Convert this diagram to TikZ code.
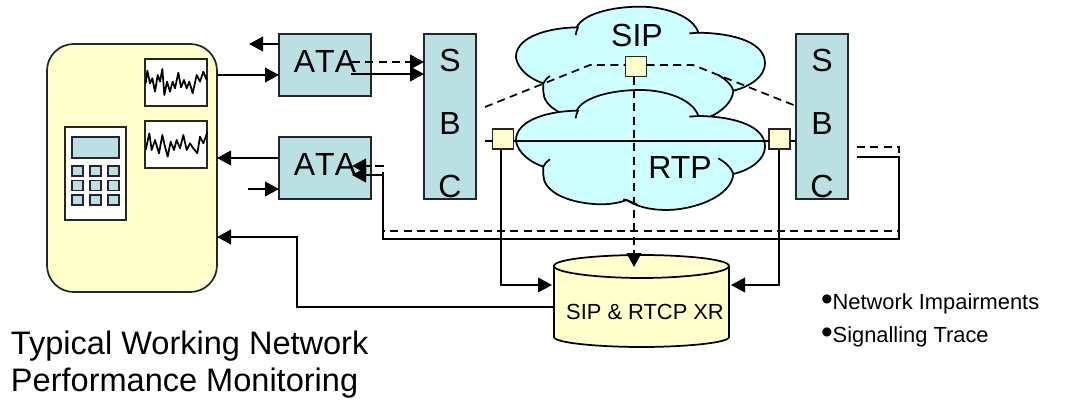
\documentclass[tikz,border=0pt]{standalone}
\usepackage{fontspec}
\setmainfont{Liberation Sans}
\usetikzlibrary{arrows.meta}
\definecolor{ablue}{HTML}{B9E0E3}
\definecolor{ayel}{HTML}{FFFFCC}
\definecolor{acloud}{HTML}{CCFFFF}
\newcommand{\bigf}{\fontsize{24}{24}\selectfont}
\newcommand{\bul}{{\fontsize{25}{25}\selectfont\raisebox{-1.1pt}{•}}}
\newcommand{\cloudshape}[1]{%
\begin{scope}[shift={(480,#1)},x=.25pt,y=-.25pt]
\draw[ln,fill=acloud] (290,82) .. controls (310,40) and (400,20) .. (480,20)
 .. controls (560,20) and (640,50) .. (655,98)
 .. controls (770,100) and (855,130) .. (855,190)
 .. controls (855,230) and (810,260) .. (760,272)
 .. controls (755,340) and (640,380) .. (560,380)
 .. controls (510,380) and (470,370) .. (440,350)
 .. controls (410,362) and (370,365) .. (340,362)
 .. controls (250,355) and (190,320) .. (190,275)
 .. controls (190,265) and (190,255) .. (190,250)
 .. controls (130,230) and (108,190) .. (108,170)
 .. controls (108,120) and (180,85) .. (290,82) -- cycle;
\draw[ln] (287,105) .. controls (288,97) and (290,90) .. (295,80);
\draw[ln] (628,100) -- (657,98);
\draw[ln] (715,225) .. controls (740,240) and (755,255) .. (760,272);
\draw[ln] (190,250) .. controls (195,240) and (200,235) .. (210,228);
\draw[ln] (430,348) .. controls (445,352) and (460,358) .. (472,364);
\end{scope}}
\tikzset{
 x=.75pt,y=-.75pt,
 ln/.style={line width=1.3pt,black},
 arr/.style={ln,-{Triangle[length=10.5pt,width=11pt]}},
 dsh/.style={ln,dash pattern=on 6pt off 4pt},
 darr/.style={dsh,-{Triangle[length=10.5pt,width=11pt]}},
 boxx/.style={draw=black!85,line width=1.3pt,inner sep=0pt,outer sep=0pt,align=center},
 whbox/.style 2 args={boxx,minimum width=#1*.75pt,minimum height=#2*.75pt},
 txt/.style={inner sep=0pt,outer sep=0pt,anchor=base,font=\bigf},
 ata/.style={boxx,fill=ablue,font=\bigf\addfontfeatures{Kerning=Off},minimum width=69pt,text height=28.5pt,text depth=18pt},
 sbc/.style={boxx,fill=ablue,minimum width=39pt,font=\fontsize{24}{46.9}\selectfont},
 sq/.style={whbox={21}{20},fill=ayel},
 key/.style={whbox={11}{10},fill=ablue},
}
\begin{document}
\begin{tikzpicture}
\useasboundingbox (0,0) rectangle (1068,400);
% monitor
\node[whbox={170}{248},fill=ayel,rounded corners=20pt] (mon) at (132,168) {};
\node[whbox={62}{47},fill=white] (g1) at (176,82.5) {};
\node[whbox={62}{47},fill=white] (g2) at (176,144.5) {};
\begin{scope}[x=.25pt,y=-.25pt]
\draw[ln,line join=round] (437,250)--(442,212)--(450,250)--(457,235)--(465,275)--(473,225)--(480,245)--(487,207)--(493,285)--(501,245)--(510,275)--(518,245)--(525,265)--(535,218)--(543,262)--(552,240)--(560,265)--(568,245)--(578,280)--(590,225)--(600,245)--(610,215)--(620,240);
\draw[ln,line join=round] (437,450)--(448,400)--(455,450)--(465,420)--(477,460)--(487,405)--(495,440)--(503,470)--(512,425)--(522,450)--(530,420)--(540,445)--(550,405)--(560,450)--(570,430)--(580,445)--(592,460)--(600,410)--(610,430)--(622,397);
\end{scope}
\node[whbox={61}{93},fill=white] (calc) at (95.5,173.5) {};
\node[whbox={47}{21},fill=ablue] (scr) at (95.5,147.5) {};
\node[key] (k1) at (77.5,171) {};
\node[key] (k2) at (95.5,171) {};
\node[key] (k3) at (113.5,171) {};
\node[key] (k4) at (77.5,185.5) {};
\node[key] (k5) at (95.5,185.5) {};
\node[key] (k6) at (113.5,185.5) {};
\node[key] (k7) at (77.5,200) {};
\node[key] (k8) at (95.5,200) {};
\node[key] (k9) at (113.5,200) {};
% clouds
\cloudshape{0}
\cloudshape{83.3}
\node[txt] (sip) at (637,46) {SIP};
\node[txt] (rtp) at (680,178) {RTP};
% boxes
\node[ata] (ata1) at (325,65) {ATA};
\node[ata] (ata2) at (325,168) {ATA};
\node[sbc] (sbc1) at (450,116.5) {\rule{0pt}{28.5pt}S\\B\\C\rule[-1.5pt]{0pt}{1.5pt}};
\node[sbc] (sbc2) at (822,116.5) {\rule{0pt}{28.5pt}S\\B\\C\rule[-1.5pt]{0pt}{1.5pt}};
\node[sq] (sl) at (503,139) {};
\node[sq] (sr) at (779.5,139) {};
\node[sq] (st) at (636,66.5) {};
% database
\draw[ln,fill=ayel] (554,266) .. controls (554,259) and (600,255) .. (641.5,255)
 .. controls (683,255) and (729,259) .. (729,266) -- (729,337)
 .. controls (729,343) and (683,347) .. (641.5,347)
 .. controls (600,347) and (554,343) .. (554,337) -- cycle;
\draw[ln] (554,266) .. controls (554,273) and (600,278) .. (641.5,278)
 .. controls (683,278) and (729,273) .. (729,266);
\node[txt,font=\fontsize{16.4}{16.4}\selectfont] (db) at (645,319) {SIP \& RTCP XR};
% named free ends
\coordinate (a1out) at (249,44);
\coordinate (a1d) at (352,62);
\coordinate (a1s) at (351,74);
\coordinate (a2in) at (248,189);
\coordinate (a2dt) at (352,166);
\coordinate (a2st) at (352,175);
\coordinate (e1) at (857,147);
\coordinate (e2) at (857,157);
\coordinate (l1) at (485,107);
\coordinate (l2) at (485,141);
\coordinate (dbl) at (552,285);
\coordinate (dbr) at (731,285);
\coordinate (dbt) at (634,267);
\coordinate (dbs) at (554,307);
% connectors
\draw[arr] (ata1.west |- a1out) -- (a1out);
\draw[arr] (mon.east |- 0,75) -- (ata1.west |- 0,75);
\draw[darr] (a1d) -- (sbc1.west |- a1d);
\draw[arr] (a1s) -- (sbc1.west |- a1s);
\draw[arr] (ata2.west |- 0,158) -- (mon.east |- 0,158);
\draw[arr] (a2in) -- (ata2.west |- a2in);
\draw[darr] (e1) -- (899,147) -- (899,231) -- (383,231) -- (383,166) -- (a2dt);
\draw[arr] (e2) -- (899,157) -- (899,239) -- (383,239) -- (383,175) -- (a2st);
\draw[arr] (dbs) -- (297,307) -- (297,237) -- (mon.east |- 0,237);
\draw[ln] (l2) -- (sl.west |- l2);
\draw[ln] (sl.east |- l2) -- (sr.west |- l2);
\draw[ln] (sr.east |- l2) -- (sbc2.west |- l2);
\draw[arr] (501,149) |- (dbl);
\draw[arr] (779.2,149) |- (dbr);
\draw[dsh] (l1) -- (590,65) -- (st.west |- 0,65);
\draw[dsh] (st.east |- 0,65) -- (693,65) -- (sbc2.west |- 0,106);
\draw[darr] (st.south -| dbt) -- (dbt);
% texts
\node[txt,anchor=base west,font=\fontsize{24.4}{24.4}\selectfont] (t1) at (11,354) {Typical Working Network};
\node[txt,anchor=base west,font=\fontsize{24.4}{24.4}\selectfont] (t2) at (11,391) {Performance Monitoring};
\node[txt,anchor=base west,font=\fontsize{16.4}{16.4}\selectfont] (b1) at (821,309) {\bul Network Impairments};
\node[txt,anchor=base west,font=\fontsize{16.4}{16.4}\selectfont] (b2) at (821,342) {\bul Signalling Trace};
\end{tikzpicture}
\end{document}
